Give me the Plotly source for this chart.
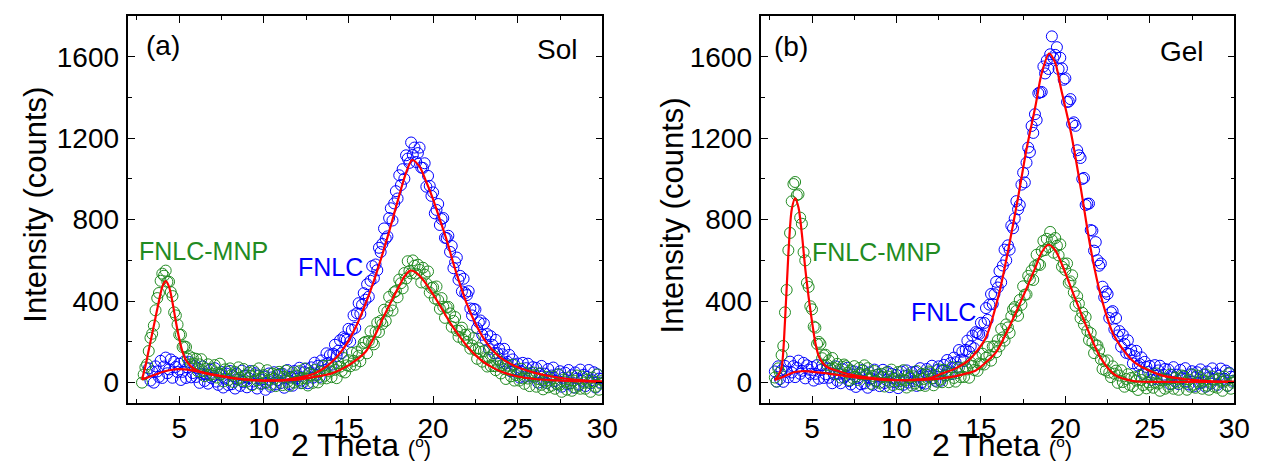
import numpy as np
import plotly.graph_objects as go

# scan angles (2 theta, deg), 0.1 deg steps
two_theta = np.round(np.arange(2.8, 30.001, 0.1), 1)
two_theta_sol_fnlc = np.round(np.arange(3.2, 30.001, 0.1), 1)

# ---- (a) Sol ----
sol_fnlc = [
    70, 10, 55, 0, 80, 55, 28, 107,
    23, 79, 123, 46, 65, 114, 24, 102, 77, 52,
    93, 13, 53, 104, 23, 74, 101, 26, 47, 81,
    28, 71, -1, 42, 80, 8, 41, -5, 64, 23,
    32, 71, 5, -11, 38, 52, -24, 20, 44, -12,
    57, -8, 31, -29, 45, 15, -16, 59, 3, 33,
    -23, 22, 57, -9, 6, 46, -29, 35, 15, -5,
    30, -35, 0, 45, -20, 26, 51, -9, 12, 42,
    -2, 44, -25, 21, 62, -7, 29, -15, 57, 19,
    31, 73, 10, -2, 51, 69, -3, 46, 75, 24,
    98, 38, 83, 28, 109, 85, 62, 144, 97, 135,
    88, 142, 186, 131, 157, 208, 145, 223, 216, 210,
    264, 201, 259, 330, 269, 341, 390, 338, 382, 439,
    407, 483, 422, 500, 572, 513, 580, 552, 662, 641,
    681, 757, 707, 718, 808, 856, 796, 880, 940, 904,
    1018, 970, 1048, 1001, 1116, 1100, 1079, 1179, 1118, 1154,
    1083, 1127, 1154, 1056, 1054, 1077, 962, 1015, 966, 917,
    934, 831, 848, 877, 774, 803, 808, 711, 710, 721,
    642, 671, 562, 591, 614, 505, 524, 448, 510, 440,
    430, 449, 364, 330, 362, 359, 267, 296, 305, 235,
    290, 211, 238, 165, 228, 186, 145, 210, 145, 166,
    102, 139, 166, 94, 102, 136, 55, 114, 89, 64,
    94, 25, 56, 97, 29, 71, 93, 30, 48, 76,
    29, 72, 0, 43, 82, 10, 44, -2, 67, 26,
    35, 74, 8, -8, 41, 56, -20, 24, 49, -7,
    62, -3, 36, -24, 50, 20, -10, 64, 9, 39,
    -17, 28, 62, -3, 12, 51, -24, 41, 20, 0,
    20,
]
sol_mnp = [
    0, 40,
    75, 90, 155, 220, 240, 280, 355, 415, 440, 500,
    535, 525, 550, 495, 495, 445, 425, 345, 330, 285,
    235, 235, 175, 178, 175, 117, 130, 90, 121, 93,
    117, 56, 90, 115, 56, 32, 68, 90, 37, 69,
    42, 86, 25, 49, 93, 42, 6, 65, 54, 13,
    70, 39, 3, 52, 16, 75, 24, 8, 67, 36,
    5, 49, 33, -12, 57, 36, 11, 70, -6, 24,
    37, 2, 61, 15, -10, 44, 19, -17, 38, 53,
    43, -12, 28, 59, 4, -16, 24, 50, 0, 35,
    10, 56, -3, 23, 69, 20, -14, 47, 38, -1,
    62, 34, 1, 53, 20, 82, 34, 21, 83, 55,
    27, 75, 63, 22, 95, 78, 57, 121, 50, 85,
    110, 80, 146, 107, 88, 150, 132, 105, 170, 195,
    200, 144, 204, 252, 199, 188, 250, 294, 248, 303,
    288, 358, 303, 350, 421, 379, 354, 444, 450, 419,
    506, 488, 463, 538, 511, 596, 548, 536, 600, 574,
    535, 579, 554, 492, 564, 530, 487, 546, 442, 465,
    468, 413, 472, 405, 362, 415, 373, 318, 369, 372,
    340, 274, 303, 322, 256, 225, 255, 270, 210, 235,
    200, 236, 167, 183, 219, 160, 117, 169, 151, 103,
    155, 120, 79, 123, 82, 136, 81, 61, 116, 81,
    45, 86, 67, 18, 84, 60, 31, 88, 10, 37,
    47, 10, 68, 21, -6, 47, 20, -17, 36, 50,
    37, -20, 18, 46, -11, -33, 5, 28, -23, 11,
    -15, 30, -30, -5, 40, -10, -45, 15, 5, -35,
    25, -5, -40, 10, -25, 35, -15, -30, 30, 0,
    -30, 15, 0, -45, 25, 5, -20, 40, -35, -5,
    10,
]
fit_sol_fnlc_x = [2.8, 3.2, 3.6, 4.0, 4.5, 5.0, 5.5, 6.0, 6.5, 7.0, 8.0, 9.0, 10.0, 11.0, 12.0,
                  12.5, 13.0, 13.5, 14.0, 14.5, 15.0, 15.5, 16.0, 16.5, 17.0, 17.5, 18.0, 18.4,
                  18.76, 19.2, 19.6, 20.0, 20.4, 20.8, 21.2, 21.6, 22.0, 22.5, 23.0, 23.5, 24.0,
                  25.0, 26.0, 27.0, 28.0, 29.0, 30.0]
fit_sol_fnlc_y = [15, 28, 40, 52, 62, 66, 64, 56, 47, 38, 24, 15, 10, 12, 24,
                  32, 45, 68, 100, 145, 205, 285, 385, 500, 630, 770, 920, 1030,
                  1093, 1060, 985, 900, 800, 700, 585, 480, 385, 290, 215, 160, 122,
                  75, 48, 30, 18, 10, 5]
fit_sol_mnp_x = [2.8, 3.0, 3.2, 3.4, 3.6, 3.8, 4.0, 4.2, 4.4, 4.6, 4.8, 5.0, 5.2, 5.4, 5.6, 5.8,
                 6.0, 6.5, 7.0, 8.0, 9.0, 10.0, 11.0, 12.0, 13.0, 14.0, 15.0, 16.0, 16.5, 17.0,
                 17.5, 18.0, 18.3, 18.65, 19.0, 19.5, 20.0, 20.5, 21.0, 21.5, 22.0, 22.5, 23.0,
                 23.5, 24.0, 25.0, 26.0, 27.0, 28.0, 30.0]
fit_sol_mnp_y = [15, 80, 160, 240, 320, 400, 470, 498, 470, 395, 300, 215, 150, 110, 88, 72,
                 62, 48, 40, 25, 15, 10, 10, 15, 28, 45, 85, 150, 220, 310,
                 395, 475, 520, 550, 540, 495, 433, 365, 295, 235, 180, 135, 100,
                 75, 55, 30, 18, 12, 8, 5]

# ---- (b) Gel ----
gel_fnlc = [
    55, 5,
    80, 18, 61, 4, 82, 54, 26, 103, 50, 81,
    27, 73, 108, 43, 58, 97, 21, 85, 64, 43,
    77, 10, 43, 86, 19, 62, 85, 23, 41, 70,
    24, 68, -3, 41, 80, 9, 43, -3, 66, 25,
    34, 73, 7, -9, 40, 55, -21, 23, 48, -8,
    62, -4, 36, -25, 50, 20, -11, 64, 9, 39,
    -17, 28, 63, -2, 13, 53, -22, 43, 23, 3,
    38, -27, 8, 54, -11, 34, 60, 0, 21, 51,
    7, 53, -16, 30, 71, 2, 38, -5, 67, 29,
    41, 83, 21, 9, 62, 80, 9, 58, 87, 36,
    111, 51, 96, 42, 123, 100, 77, 160, 113, 152,
    106, 161, 206, 152, 179, 231, 169, 248, 243, 239,
    294, 233, 293, 366, 308, 383, 435, 386, 434, 495,
    467, 548, 492, 575, 653, 600, 674, 653, 771, 758,
    806, 891, 851, 872, 972, 1031, 983, 1080, 1154, 1132,
    1260, 1226, 1318, 1289, 1421, 1425, 1427, 1552, 1518, 1582,
    1540, 1612, 1700, 1593, 1609, 1647, 1540, 1595, 1543, 1487,
    1494, 1378, 1380, 1392, 1270, 1278, 1261, 1141, 1116, 1103,
    1000, 1005, 872, 878, 879, 749, 746, 648, 690, 601,
    574, 585, 471, 419, 447, 435, 317, 345, 351, 262,
    317, 232, 253, 176, 235, 190, 146, 208, 141, 160,
    95, 130, 156, 83, 91, 124, 43, 102, 77, 52,
    82, 13, 44, 86, 18, 60, 83, 21, 39, 67,
    20, 64, -7, 37, 76, 5, 39, -7, 63, 22,
    31, 71, 6, -9, 41, 56, -19, 26, 51, -4,
    65, 0, 40, -20, 55, 25, -5, 70, 15, 45,
    -11, 34, 69, 4, 19, 59, -16, 49, 29, 9,
    30,
]
gel_mnp = [
    25, 5,
    70, 50, 135, 180, 345, 455, 650, 735, 890, 975,
    985, 920, 925, 810, 780, 640, 600, 490, 470, 375,
    360, 275, 270, 190, 200, 190, 120, 134, 137, 87,
    109, 67, 121, 71, 41, 92, 63, 25, 77, 89,
    81, 49, 12, 60, 23, 81, 29, 13, 72, 41,
    59, 85, 42, 71, 15, -6, 33, 57, 6, 40,
    -1, 43, 27, -19, 50, 30, 4, 64, -12, 18,
    7, 52, -8, 16, 61, 11, -24, 36, 26, -14,
    31, -4, 57, 12, -13, 43, 18, -16, 39, 55,
    50, 21, -13, 38, 4, 65, 16, 2, 63, 34,
    55, 2, 44, 76, 23, 5, 47, 74, 27, 65,
    28, 76, 65, 24, 98, 82, 62, 127, 58, 94,
    90, 142, 89, 122, 175, 134, 108, 178, 178, 149,
    208, 178, 263, 222, 206, 286, 271, 244, 326, 360,
    371, 352, 328, 406, 382, 473, 432, 433, 524, 507,
    550, 504, 572, 628, 582, 578, 646, 696, 651, 706,
    665, 740, 700, 638, 710, 672, 625, 679, 569, 585,
    553, 585, 490, 497, 527, 443, 377, 424, 388, 316,
    343, 285, 322, 255, 209, 243, 198, 145, 183, 182,
    159, 115, 67, 105, 59, 109, 50, 27, 80, 44,
    59, -1, 35, 61, 3, -20, 18, 41, -11, 23,
    -18, 26, 10, -36, 34, 13, -12, 48, -28, 2,
    -10, 35, -25, 0, 45, -5, -40, 20, 10, -30,
    15, -20, 40, -5, -30, 25, 0, -35, 20, 35,
    30, 0, -35, 15, -20, 40, -10, -25, 35, 5,
    25, -30, 10, 40, -15, -35, 5, 30, -20, 15,
    -25, 20, 5, -40, 30, 10, -15, 45, -30, 0,
    10,
]
fit_gel_fnlc_x = [2.8, 3.2, 3.6, 4.0, 4.4, 4.8, 5.2, 5.6, 6.0, 6.5, 7.0, 8.0, 9.0, 10.0, 11.0,
                  12.0, 12.7, 13.5, 14.3, 15.27, 16.05, 16.63, 17.22, 17.7, 18.23, 18.6, 19.04,
                  19.4, 19.75, 20.33, 20.92, 21.5, 22.09, 22.87, 24.04, 25.6, 27.0, 28.5, 30.0]
fit_gel_fnlc_y = [13, 25, 40, 52, 56, 55, 52, 48, 44, 38, 32, 22, 15, 12, 14,
                  22, 45, 70, 112, 217, 429, 657, 918, 1146, 1358, 1520, 1616,
                  1570, 1440, 1228, 951, 657, 429, 233, 103, 38, 18, 8, 5]
fit_gel_mnp_x = [2.8, 3.0, 3.2, 3.4, 3.6, 3.8, 4.0, 4.2, 4.4, 4.6, 4.8, 5.0, 5.2, 5.4, 5.6, 5.8,
                 6.0, 6.5, 7.0, 7.5, 8.0, 9.0, 10.0, 11.0, 12.0, 13.0, 14.0, 14.7, 15.3, 15.9,
                 16.6, 17.4, 18.2, 18.6, 19.0, 19.4, 19.8, 20.5, 21.3, 22.1, 22.9, 24.0, 26.0,
                 28.0, 30.0]
fit_gel_mnp_y = [13, 35, 75, 300, 630, 850, 905, 860, 730, 560, 420, 300, 195, 130, 100, 82,
                 72, 58, 45, 36, 28, 18, 13, 12, 16, 25, 42, 60, 100, 150,
                 260, 405, 560, 640, 677, 650, 580, 430, 265, 120, 40, 8, 4,
                 3, 3]

BLUE = "#0000FF"
GREEN = "#228B22"
RED = "#FF0000"
FONT = "Liberation Sans, Arial, sans-serif"
W, H = 1263, 462

fig = go.Figure()


def add_panel(xa, ya, x_f, y_f, x_m, y_m, fx_f, fy_f, fx_m, fy_m):
    for xs, ys, col in [(x_f, y_f, BLUE), (x_m, y_m, GREEN)]:
        fig.add_trace(go.Scatter(
            x=xs, y=ys, mode="markers", xaxis=xa, yaxis=ya,
            marker=dict(symbol="circle-open", size=11, color=col, line=dict(width=1))))
    for xs, ys in [(fx_f, fy_f), (fx_m, fy_m)]:
        fig.add_trace(go.Scatter(
            x=xs, y=ys, mode="lines", xaxis=xa, yaxis=ya,
            line=dict(color=RED, width=2.2, shape="spline", smoothing=0.8)))


add_panel("x", "y", two_theta_sol_fnlc, sol_fnlc, two_theta, sol_mnp,
          fit_sol_fnlc_x, fit_sol_fnlc_y, fit_sol_mnp_x, fit_sol_mnp_y)
add_panel("x2", "y2", two_theta, gel_fnlc, two_theta, gel_mnp,
          fit_gel_fnlc_x, fit_gel_fnlc_y, fit_gel_mnp_x, fit_gel_mnp_y)

axis_style = dict(
    showline=True, linecolor="black", linewidth=1.5, mirror="ticks",
    ticks="inside", ticklen=7, tickwidth=1.2, tickcolor="black",
    showgrid=False, zeroline=False,
    tickfont=dict(family=FONT, size=28, color="black"),
)
xa = dict(axis_style, range=[2, 30], tick0=0, dtick=5,
          minor=dict(ticks="inside", ticklen=4, tickwidth=1, tickcolor="black", tick0=0, dtick=2.5))
ya = dict(axis_style, range=[-100, 1800], tick0=0, dtick=400, ticklabelstandoff=2,
          minor=dict(ticks="inside", ticklen=4, tickwidth=1, tickcolor="black", tick0=0, dtick=200))

ydom = [1 - 395 / H, 1 - 8 / H]
fig.update_layout(
    width=W, height=H, margin=dict(l=0, r=0, t=0, b=0),
    paper_bgcolor="white", plot_bgcolor="white", showlegend=False,
    font=dict(family=FONT, color="black"),
    xaxis=dict(xa, domain=[122 / W, 602 / W], anchor="y"),
    yaxis=dict(ya, domain=ydom, anchor="x"),
    xaxis2=dict(xa, domain=[763 / W, 1242 / W], anchor="y2"),
    yaxis2=dict(ya, domain=ydom, anchor="x2"),
)


def label(text, px, py, size, color="black", angle=0, yanchor="middle"):
    fig.add_annotation(text=text, x=px / W, y=1 - py / H, xref="paper", yref="paper",
                       showarrow=False, xanchor="center", yanchor=yanchor, textangle=angle,
                       font=dict(family=FONT, size=size, color=color))


xtitle = "2 Theta <span style='font-size:22px'>(<sup>o</sup>)</span>"
label("Intensity (counts)", 28, 197, 31, angle=-90)
label("Intensity (counts)", 673, 207, 31, angle=-90)
label(xtitle, 358, 457, 32, yanchor="bottom")
label(xtitle, 1007, 457, 32, yanchor="bottom")
label("(a)", 157, 38, 28)
label("Sol", 556, 41, 28)
label("(b)", 793, 39, 28)
label("Gel", 1189, 43, 28)
label("FNLC-MNP", 198, 243, 25, GREEN)
label("FNLC", 327, 259, 25, BLUE)
label("FNLC-MNP", 880, 244, 25, GREEN)
label("FNLC", 948, 304, 25, BLUE)

fig.write_html("out.html")
